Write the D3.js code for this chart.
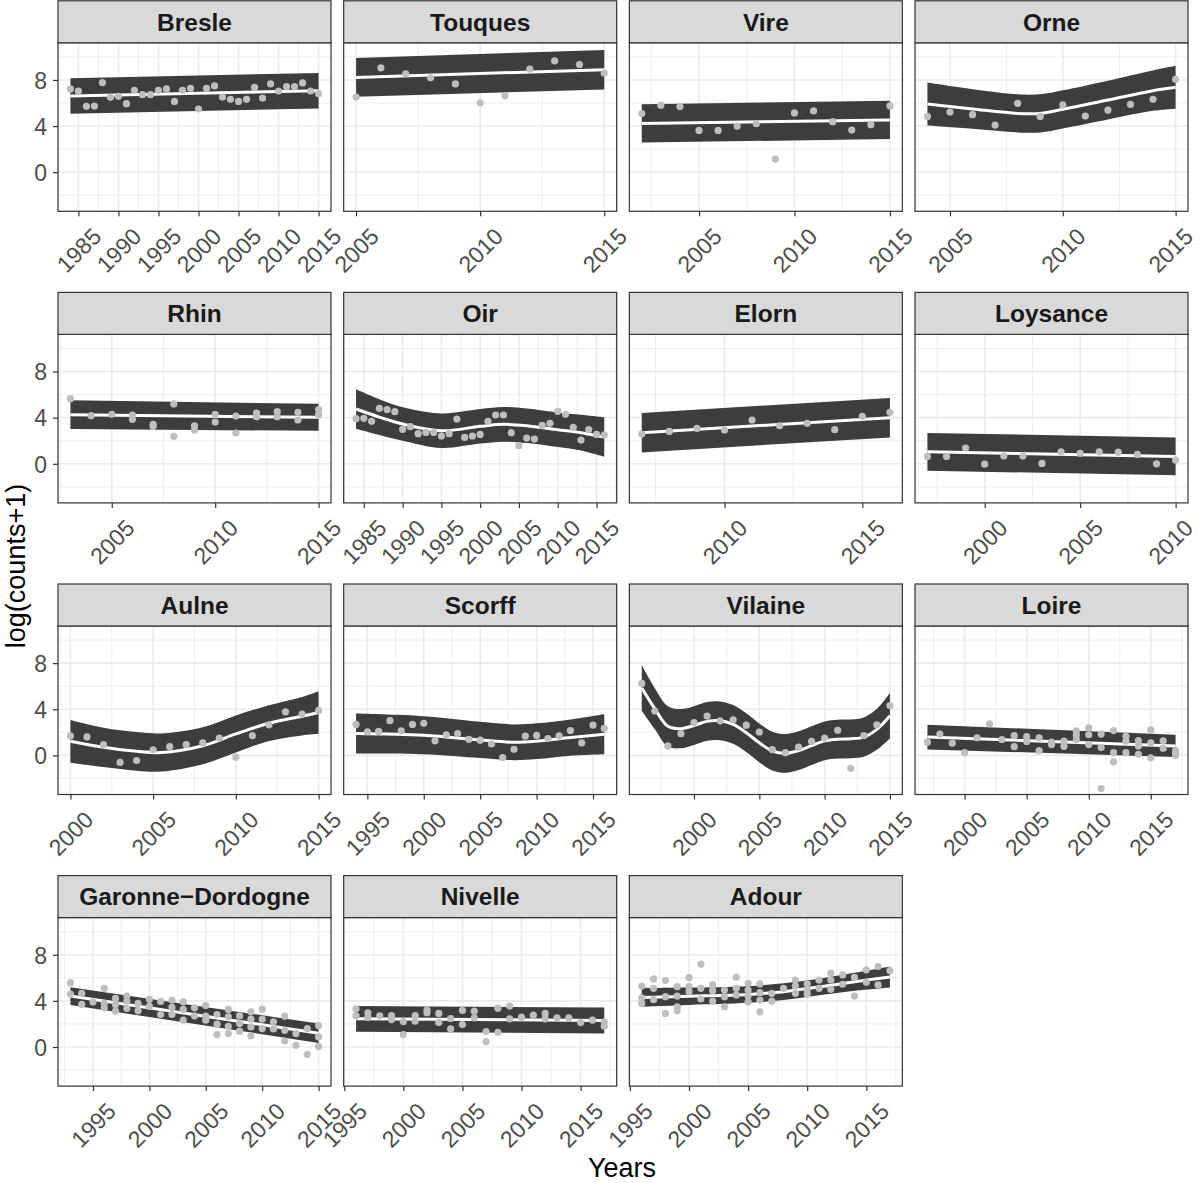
<!DOCTYPE html>
<html>
<head>
<meta charset="utf-8">
<script src="https://cdn.jsdelivr.net/npm/d3@7"></script>
<style>
  body { margin: 0; background: #ffffff; }
  svg text { font-family: "Liberation Sans", Arial, Helvetica, sans-serif; }
</style>
</head>
<body>
<div id="chart"></div>
<script>
// ---- data ----
var rivers = ["Bresle", "Touques", "Vire", "Orne",
              "Rhin", "Oir", "Elorn", "Loysance",
              "Aulne", "Scorff", "Vilaine", "Loire",
              "Garonne−Dordogne", "Nivelle", "Adour"];

// one entry per sampled year
var years = [
  [1984,1985,1986,1987,1988,1989,1990,1991,1992,1993,1994,1995,1996,1997,1998,1999,2000,2001,2002,2003,2004,2005,2006,2007,2008,2009,2010,2011,2012,2013,2014,2015],
  [2005,2006,2007,2008,2009,2010,2011,2012,2013,2014,2015],
  [2002,2003,2004,2005,2006,2007,2008,2009,2010,2011,2012,2013,2014,2015],
  [2004,2005,2006,2007,2008,2009,2010,2011,2012,2013,2014,2015],
  [2003,2004,2005,2006,2007,2008,2009,2010,2011,2012,2013,2014,2015],
  [1984,1985,1986,1987,1988,1989,1990,1991,1992,1993,1994,1995,1996,1997,1998,1999,2000,2001,2002,2003,2004,2005,2006,2007,2008,2009,2010,2011,2012,2013,2014,2015,2016],
  [2007,2008,2009,2010,2011,2012,2013,2014,2015,2016],
  [1997,1998,1999,2000,2001,2002,2003,2004,2005,2006,2007,2008,2009,2010],
  [2000,2001,2002,2003,2004,2005,2006,2007,2008,2009,2010,2011,2012,2013,2014,2015],
  [1994,1995,1996,1997,1998,1999,2000,2001,2002,2003,2004,2005,2006,2007,2008,2009,2010,2011,2012,2013,2014,2015,2016],
  [1996,1997,1998,1999,2000,2001,2002,2003,2004,2005,2006,2007,2008,2009,2010,2011,2012,2013,2014,2015],
  [1997,1998,1999,2000,2001,2002,2003,2004,2005,2006,2007,2008,2009,2010,2011,2012,2013,2014,2015,2016,2017],
  [1993,1994,1995,1996,1997,1998,1999,2000,2001,2002,2003,2004,2005,2006,2007,2008,2009,2010,2011,2012,2013,2014,2015],
  [1996,1997,1998,1999,2000,2001,2002,2003,2004,2005,2006,2007,2008,2009,2010,2011,2012,2013,2014,2015,2016,2017],
  [1996,1997,1998,1999,2000,2001,2002,2003,2004,2005,2006,2007,2008,2009,2010,2011,2012,2013,2014,2015,2016,2017]
];

// log(counts+1) per year (an inner list when a year has several values)
var counts = [
  [7.22,7.04,5.71,5.74,7.77,6.49,6.58,5.94,7.10,6.72,6.72,7.10,7.22,6.14,7.10,7.28,5.48,7.28,7.48,6.52,6.32,6.14,6.32,7.36,6.43,7.65,7.04,7.42,7.42,7.74,7.04,6.81],
  [6.51,9.05,8.53,8.18,7.65,5.99,6.63,8.93,9.66,9.34,8.58],
  [5.08,5.81,5.69,3.62,3.62,4.00,4.20,1.14,5.14,5.31,4.38,3.65,4.12,5.75],
  [4.84,5.22,4.99,4.09,5.97,4.84,5.83,4.87,5.39,5.88,6.32,8.06],
  [5.65,4.17,4.29,[4.23,3.86],[3.42,3.25],[5.19,2.38],[3.30,2.93],[4.29,3.62],[4.14,2.67],[4.40,4.09],[4.52,4.09],[4.46,3.80],[4.70,4.26]],
  [3.91,3.94,3.68,4.81,4.70,4.52,2.99,3.22,2.61,2.72,2.72,2.41,2.61,3.88,2.29,2.41,2.55,3.68,4.23,4.23,2.70,1.57,2.23,2.14,3.33,3.51,4.55,4.29,3.16,2.06,2.96,2.55,2.52],
  [2.58,2.81,3.07,2.93,3.80,3.30,3.51,2.96,4.12,4.46],
  [0.64,0.64,1.36,-0.03,0.67,0.67,0.03,1.04,0.90,1.04,1.01,0.81,0.00,0.32],
  [1.69,1.60,0.93,-0.61,-0.44,0.49,0.76,0.93,1.08,1.51,-0.15,1.72,2.65,3.78,3.58,3.90],
  [2.69,2.05,2.08,3.01,2.13,2.69,2.78,1.26,1.78,1.90,1.40,1.32,0.99,-0.18,0.53,1.67,1.73,1.46,1.70,2.16,1.08,2.63,2.34],
  [6.24,3.85,0.82,1.88,2.85,3.41,3.00,3.09,2.62,2.03,0.50,0.24,0.71,1.21,1.50,2.18,-1.12,1.71,2.65,4.32],
  [1.15,1.85,1.06,0.24,1.53,2.74,1.38,[1.71,0.76],[1.62,1.21],[1.53,0.41],[1.15,0.94],[1.24,0.79],[2.12,1.74,1.35],[2.38,1.79,0.94],[1.85,0.68,-2.88],[2.15,0.24,-0.56],[1.65,1.24,0.24],[1.29,0.82,0.09],[2.21,1.09,-0.21],[1.26,0.62],[0.41,0.00,0.20]],
  [[5.58,4.59],[4.65,3.69],3.90,[5.09,3.78,3.40],[4.22,3.69,3.11],[4.42,3.98,3.34],[3.78,3.14],[4.13,3.52],[3.95,2.82],[4.07,3.43,2.82],[3.92,3.26,2.33],[3.40,2.70],[3.60,2.67,2.33],[2.82,1.98,1.08],[3.26,2.62,1.80,1.16],[2.70,2.03,1.37],[3.05,2.41,1.74,0.96],[3.28,2.41,1.60],[2.18,1.57],[2.67,1.45,0.52],[1.16,0.15],[1.60,-0.64],[1.86,0.87,0.06]],
  [[3.31,2.70],[2.97,2.56],2.70,[2.73,2.38],[2.21,1.08],[2.73,2.24],[3.20,2.97],[2.91,2.12],[2.47,1.57],[3.17,1.95],[3.11,2.53],[1.34,0.47],[3.37,1.28],[3.55,2.44],2.59,2.76,[2.91,2.44],2.53,2.53,2.12,2.33,[2.18,1.80]],
  [[5.29,4.27,3.78],[5.90,5.09,4.10],[5.76,4.36,2.91],[5.23,4.42,3.49,3.14],[6.02,5.23,4.80],[7.18,5.09,4.16],[5.38,4.88,3.98],[4.94,4.36,3.49],[6.05,5.09,4.51],[5.52,4.94,4.42,3.92],[5.47,4.71,4.07,3.05],[4.65,3.98],5.09,[5.81,5.29,4.65],[5.47,4.94,4.59],[5.81,5.09],[6.40,5.81,5.00],[6.25,5.44],[6.05,4.42],[6.69,5.61],[6.98,5.38],6.63]
];

// smoother: years, fitted value, half width of the band
var fitYears = [
  [1984,2015],
  [2005,2015],
  [2002,2015],
  [2004,2006,2008,2009,2010,2012,2014,2015],
  [2003,2015],
  [1984,1987,1990,1995,2000,2003,2006,2010,2013,2016],
  [2007,2016],
  [1997,2010],
  [2000,2002,2004,2005.5,2008,2010,2012,2014,2015],
  [1994,2000,2005,2008,2010,2013,2016],
  [1996,1997,1998,1999,2000,2001,2002,2003,2004,2005,2006,2007,2008,2009,2010,2011,2012,2013,2014,2015],
  [1997,2017],
  [1993,2015],
  [1996,2017],
  [1996,2000,2005,2008,2011,2014,2017]
];
var fitValues = [
  [6.60,7.07],
  [8.22,8.89],
  [4.23,4.53],
  [5.91,5.48,5.10,5.10,5.45,6.26,7.07,7.36],
  [4.26,4.03],
  [4.75,4.05,3.45,2.87,3.25,3.42,3.30,2.95,2.70,2.32],
  [2.70,4.00],
  [1.04,0.64],
  [1.22,0.70,0.35,0.25,0.84,1.86,2.79,3.40,3.72],
  [1.90,1.75,1.34,1.14,1.23,1.55,1.84],
  [5.85,4.05,2.52,2.32,2.59,2.95,3.00,2.68,1.97,1.09,0.38,0.18,0.41,0.85,1.26,1.41,1.44,1.59,2.26,3.44],
  [1.59,0.82],
  [4.42,1.19],
  [2.44,2.30],
  [4.30,4.40,4.55,4.80,5.20,5.65,6.07]
];
var fitHalfWidths = [
  [1.54,1.54],
  [1.68,1.71],
  [1.66,1.66],
  [1.87,1.72,1.65,1.65,1.65,1.68,1.75,1.86],
  [1.25,1.17],
  [1.71,1.55,1.45,1.50,1.50,1.50,1.50,1.50,1.55,1.71],
  [1.71,1.71],
  [1.64,1.64],
  [1.85,1.70,1.67,1.65,1.60,1.60,1.55,1.67,1.85],
  [1.73,1.65,1.57,1.55,1.55,1.57,1.73],
  [1.98,1.78,1.75,1.70,1.68,1.68,1.68,1.68,1.68,1.68,1.68,1.68,1.68,1.68,1.68,1.68,1.68,1.70,1.78,1.98],
  [1.07,0.96],
  [0.77,0.84],
  [1.12,1.12],
  [0.80,0.75,0.72,0.72,0.72,0.78,0.92]
];

var yBreaks = [0, 4, 8];
var yMinorBreaks = [-2, 2, 6, 10];
var yLimits = [-3.39, 11.22];

// ---- layout ----
var width = 1200, height = 1183;
var ncol = 4;
var colLeft = 58, colStep = 285.67, panelW = 273;
var rowTop = 0.8, rowStep = 291.6, stripH = 42, panelH = 168.5;
var tickFont = 23;

var svg = d3.select("#chart")
  .append("svg")
    .attr("width", width)
    .attr("height", height);

rivers.forEach(function(name, i) {
  var col = i % ncol, row = Math.floor(i / ncol);
  var left = colLeft + col * colStep;
  var top = rowTop + row * rowStep + stripH;

  var g = svg.append("g")
    .attr("transform", "translate(" + left + "," + top + ")");

  // points
  var pts = [];
  years[i].forEach(function(yr, j) {
    [].concat(counts[i][j]).forEach(function(v) { pts.push({year: yr, value: v}); });
  });
  var fit = fitYears[i].map(function(yr, j) {
    return {year: yr, mid: fitValues[i][j], half: fitHalfWidths[i][j]};
  });

  // scales (ggplot style 5% expansion on x)
  var ext = d3.extent(years[i]);
  var pad = (ext[1] - ext[0]) * 0.05;
  var x = d3.scaleLinear().domain([ext[0] - pad, ext[1] + pad]).range([0, panelW]);
  var y = d3.scaleLinear().domain(yLimits).range([panelH, 0]);

  var lo = x.domain()[0], hi = x.domain()[1];
  var xBreaks = d3.range(Math.ceil(lo / 5) * 5, hi + 1e-9, 5);
  var xMinor = d3.range(Math.ceil((lo - 2.5) / 5) * 5 + 2.5, hi + 1e-9, 5);

  // panel background + grid
  g.append("rect")
    .attr("width", panelW).attr("height", panelH)
    .attr("fill", "#ffffff");

  g.selectAll(".xminor").data(xMinor).enter().append("line")
    .attr("x1", d => x(d)).attr("x2", d => x(d))
    .attr("y1", 0).attr("y2", panelH)
    .attr("stroke", "#ebebeb").attr("stroke-width", 0.9);
  g.selectAll(".yminor").data(yMinorBreaks).enter().append("line")
    .attr("x1", 0).attr("x2", panelW)
    .attr("y1", d => y(d)).attr("y2", d => y(d))
    .attr("stroke", "#ebebeb").attr("stroke-width", 0.9);
  g.selectAll(".xmajor").data(xBreaks).enter().append("line")
    .attr("x1", d => x(d)).attr("x2", d => x(d))
    .attr("y1", 0).attr("y2", panelH)
    .attr("stroke", "#ebebeb").attr("stroke-width", 1.6);
  g.selectAll(".ymajor").data(yBreaks).enter().append("line")
    .attr("x1", 0).attr("x2", panelW)
    .attr("y1", d => y(d)).attr("y2", d => y(d))
    .attr("stroke", "#ebebeb").attr("stroke-width", 1.6);

  // smoother band and line
  var curve = d3.curveCatmullRom.alpha(0.5);
  g.append("path")
    .datum(fit)
    .attr("d", d3.area()
      .x(d => x(d.year))
      .y0(d => y(d.mid - d.half))
      .y1(d => y(d.mid + d.half))
      .curve(curve))
    .attr("fill", "#3d3d3d");
  g.append("path")
    .datum(fit)
    .attr("d", d3.line()
      .x(d => x(d.year))
      .y(d => y(d.mid))
      .curve(curve))
    .attr("fill", "none")
    .attr("stroke", "#ffffff")
    .attr("stroke-width", 3);

  // observations
  g.selectAll(".pt").data(pts).enter().append("circle")
    .attr("cx", d => x(d.year))
    .attr("cy", d => y(d.value))
    .attr("r", 3.6)
    .attr("fill", "#bebebe");

  // panel border
  g.append("rect")
    .attr("width", panelW).attr("height", panelH)
    .attr("fill", "none")
    .attr("stroke", "#333333").attr("stroke-width", 1.2);

  // strip
  g.append("rect")
    .attr("y", -stripH)
    .attr("width", panelW).attr("height", stripH)
    .attr("fill", "#d9d9d9")
    .attr("stroke", "#333333").attr("stroke-width", 1.2);
  g.append("text")
    .attr("x", panelW / 2)
    .attr("y", -stripH / 2 + 0.36 * 24.5)
    .attr("text-anchor", "middle")
    .attr("font-size", 24.5)
    .attr("font-weight", "bold")
    .attr("fill", "#1a1a1a")
    .text(name);

  // x axis
  var xAxis = g.append("g")
    .attr("transform", "translate(0," + panelH + ")")
    .call(d3.axisBottom(x).tickValues(xBreaks).tickSize(5).tickFormat(d3.format("d")));
  xAxis.select(".domain").remove();
  xAxis.attr("font-family", null).attr("font-size", tickFont);
  xAxis.selectAll("line").attr("stroke", "#333333").attr("stroke-width", 1.2);
  xAxis.selectAll("text")
    .attr("y", 0)
    .attr("dy", "0.35em")
    .attr("text-anchor", "middle")
    .attr("fill", "#4d4d4d")
    .attr("transform", function(d) {
      // keep the rotated label (full em box) inside the picture at the right edge
      var half = (this.getComputedTextLength() + tickFont * 1.2) * 0.7071 / 2;
      var over = left + x(d) + half - (width - 2);
      var dx = over > 0 ? -over : 0;
      return "translate(" + dx + ",39) rotate(-45)";
    });

  // y axis only on the first column
  if (col === 0) {
    var yAxis = g.append("g")
      .call(d3.axisLeft(y).tickValues(yBreaks).tickSize(5).tickPadding(6));
    yAxis.select(".domain").remove();
    yAxis.attr("font-family", null).attr("font-size", tickFont);
    yAxis.selectAll("line").attr("stroke", "#333333").attr("stroke-width", 1.2);
    yAxis.selectAll("text").attr("fill", "#4d4d4d").attr("dy", "0.36em");
  }
});

// axis titles
svg.append("text")
  .attr("x", 622)
  .attr("y", 1177)
  .attr("text-anchor", "middle")
  .attr("font-size", 27)
  .attr("fill", "#000000")
  .text("Years");

svg.append("text")
  .attr("transform", "translate(25,566) rotate(-90)")
  .attr("text-anchor", "middle")
  .attr("font-size", 27)
  .attr("fill", "#000000")
  .text("log(counts+1)");
</script>
</body>
</html>
